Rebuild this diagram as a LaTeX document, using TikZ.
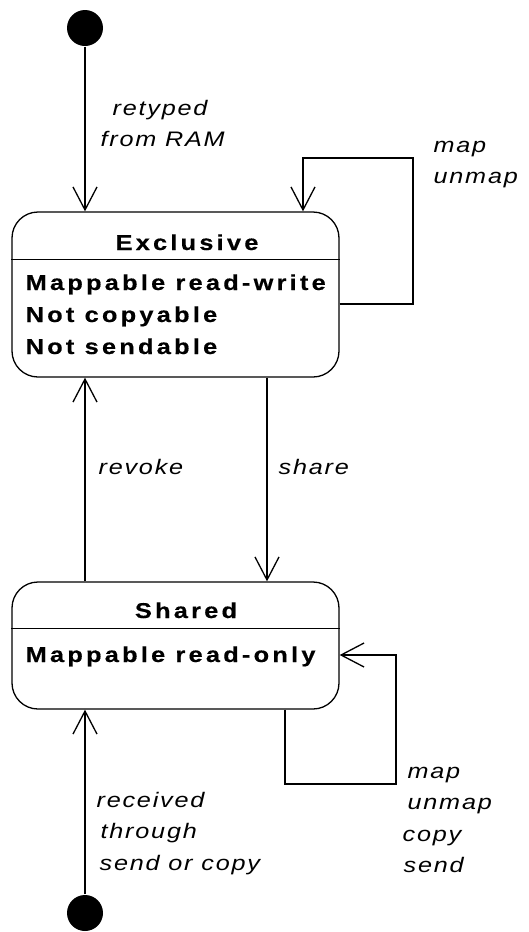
\documentclass[tikz,border=0pt]{standalone}
\usepackage{fontspec}
\setmainfont{Liberation Sans}
\newfontfamily\statefont{Liberation Sans}[FakeStretch=1.18,LetterSpace=15,FakeBold=0.4]
\newfontfamily\trigfont{Liberation Sans}[FakeStretch=1.2,LetterSpace=8.5]
\usetikzlibrary{arrows.meta,calc}

\begin{document}
\begin{tikzpicture}[x=1pt,y=-1pt,
  line width=1.3pt,
  >={Straight Barb[length=23pt,width=24pt]},
  initial/.style={circle,fill=black,minimum size=36pt,inner sep=0pt},
  statebox/.style={draw,rounded corners=26pt,minimum width=327pt,inner sep=0pt},
  title/.style={font=\statefont\bfseries\fontsize{21.5}{32}\selectfont,anchor=base,inner sep=0pt},
  body/.style={font=\statefont\bfseries\fontsize{21.5}{32}\selectfont,anchor=base west,inner sep=0pt},
  trig/.style={font=\trigfont\itshape\fontsize{21}{31.5}\selectfont,anchor=base west,inner sep=0pt},
]
\useasboundingbox (0,0) rectangle (528,932);

% initial pseudo-states
\node[initial] (init1) at (85,28) {};
\node[initial] (init2) at (85,913) {};

% state boxes
\node[statebox,minimum height=165pt] (excl) at (175.5,294.5) {};
\node[statebox,minimum height=127pt] (shr) at (175.5,645.5) {};
\draw ($(excl.north west)+(0,48)$) -- ++(329,0);
\draw ($(shr.north west)+(0,47)$) -- ++(329,0);

% state texts
\node[title] (exclT) at (187,250) {Exclusive};
\node[body] (exclB) at (25,290) {\begin{tabular}[t]{@{}l@{}}Mappable read-write\\Not copyable\\Not sendable\end{tabular}};
\node[title] (shrT) at (186,618) {Shared};
\node[body] (shrB) at (25,662) {Mappable read-only};

% transitions
\draw[->] (init1) -- (init1 |- excl.north);
\coordinate (exLoop) at (413,158);
\draw[->] ([yshift=-9.5pt]excl.east) -| (exLoop) -| ([xshift=127.5pt]excl.north);
\draw[->] ([xshift=91.5pt]excl.south) -- ([xshift=91.5pt]shr.north);
\draw[->] (init1 |- shr.north) -- (init1 |- excl.south);
\coordinate (shLoop) at (396,784);
\draw[->] ([xshift=109.5pt]shr.south) |- (shLoop) |- ([yshift=-9.5pt]shr.east);
\draw[->] (init2) -- (init2 |- shr.south);

% transition labels
\node[trig] (lRet) at (100,115) {\begin{tabular}[t]{@{}l@{}}\hspace{12pt}retyped\\from RAM\end{tabular}};
\node[trig] (lMapA) at (433,152) {\begin{tabular}[t]{@{}l@{}}map\\unmap\end{tabular}};
\node[trig] (lRev) at (98,474) {revoke};
\node[trig] (lShare) at (278,474) {share};
\node[trig] (lRecv) at (96,807) {\begin{tabular}[t]{@{}l@{}}received\\\hspace{4pt}through\\\hspace{3pt}send or copy\end{tabular}};
\node[trig] (lMapB) at (402,778) {\begin{tabular}[t]{@{}l@{}}\hspace{5pt}map\\\hspace{5pt}unmap\\copy\\\hspace{1pt}send\end{tabular}};
\end{tikzpicture}
\end{document}
